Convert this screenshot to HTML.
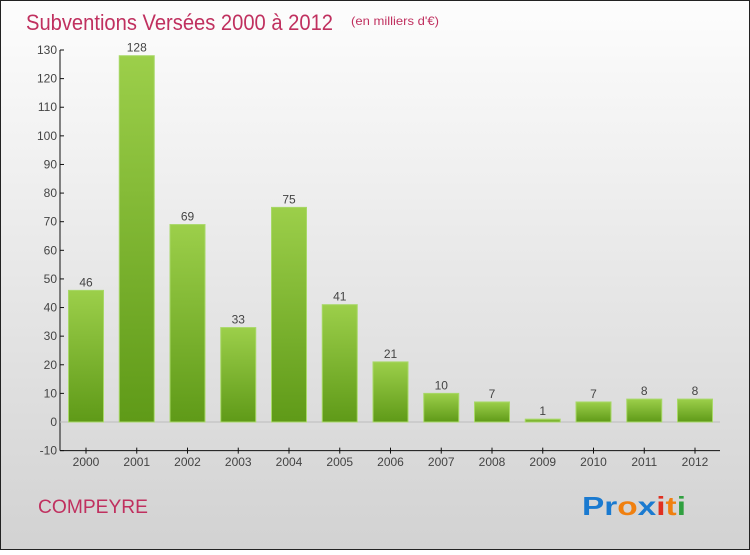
<!DOCTYPE html>
<html><head><meta charset="utf-8"><style>
body{margin:0;width:750px;height:550px;overflow:hidden;font-family:"Liberation Sans",sans-serif}
</style></head><body>
<svg width="750" height="550" xmlns="http://www.w3.org/2000/svg">
<defs>
<linearGradient id="bg" x1="0" y1="0" x2="0" y2="1"><stop offset="0" stop-color="#fdfdfd"/><stop offset="1" stop-color="#d2d2d2"/></linearGradient>
<linearGradient id="bar" x1="0" y1="0" x2="0" y2="1"><stop offset="0" stop-color="#9ccf4a"/><stop offset="1" stop-color="#5f9a18"/></linearGradient>
</defs>
<rect x="0.5" y="0.5" width="749" height="549" fill="url(#bg)" stroke="#222"/>
<text x="26" y="30" font-size="22" fill="#c0305f" textLength="307" lengthAdjust="spacingAndGlyphs">Subventions Versées 2000 à 2012</text>
<text x="351" y="25" font-size="12" fill="#c0305f" textLength="88" lengthAdjust="spacingAndGlyphs">(en milliers d'€)</text>
<g id="plot"></g>
<text x="38" y="513" font-size="19" fill="#c0305f" textLength="110" lengthAdjust="spacingAndGlyphs">COMPEYRE</text>
<text x="582" y="515" font-size="26" font-weight="bold" textLength="104" lengthAdjust="spacingAndGlyphs"><tspan fill="#1a7ad0">Pr</tspan><tspan fill="#f08010">o</tspan><tspan fill="#1a7ad0">x</tspan><tspan fill="#e03020">i</tspan><tspan fill="#f08010">t</tspan><tspan fill="#30a040">i</tspan></text>
</svg>
<script>
const categories=["2000","2001","2002","2003","2004","2005","2006","2007","2008","2009","2010","2011","2012"];
const values=[46,128,69,33,75,41,21,10,7,1,7,8,8];
const yTicks=[-10,0,10,20,30,40,50,60,70,80,90,100,110,120,130];
const NS="http://www.w3.org/2000/svg";
const g=document.getElementById('plot');
const y=v=>422-(v)*2.8615;
const x=i=>86+i*50.75;
function mk(t,a){const e=document.createElementNS(NS,t);for(const k in a)e.setAttribute(k,a[k]);g.appendChild(e);return e;}
let ax=mk('line',{x1:60,y1:y(130),x2:60,y2:y(-10),stroke:'#111'});


let bx=mk('line',{x1:60,y1:y(-10),x2:720,y2:y(-10),stroke:'#111'});


yTicks.forEach(t=>{
 mk('line',{x1:60,x2:64,y1:y(t),y2:y(t),stroke:'#111'});
 const tx=mk('text',{x:57,y:y(t)+4,'font-size':12,fill:'#444','text-anchor':'end'});
 tx.textContent=t;
 
 
});
mk('line',{x1:60,x2:720,y1:y(0),y2:y(0),stroke:'#bbb'});
categories.forEach((c,i)=>{
 const v=values[i];
 const r=mk('rect',{x:x(i)-17.5,y:y(v),width:35,height:y(0)-y(v),fill:'url(#bar)',stroke:'#a8d868','stroke-width':1});
 
 
 const vl=mk('text',{x:x(i),y:y(v)-4,'font-size':12,fill:'#444','text-anchor':'middle'});
 vl.textContent=v;
 
 
 mk('line',{x1:x(i),x2:x(i),y1:y(-10)-3,y2:y(-10)+3,stroke:'#111'});
 const xl=mk('text',{x:x(i),y:466,'font-size':12,fill:'#444','text-anchor':'middle'});
 xl.textContent=c;
 
 
});
</script>
</body></html>
